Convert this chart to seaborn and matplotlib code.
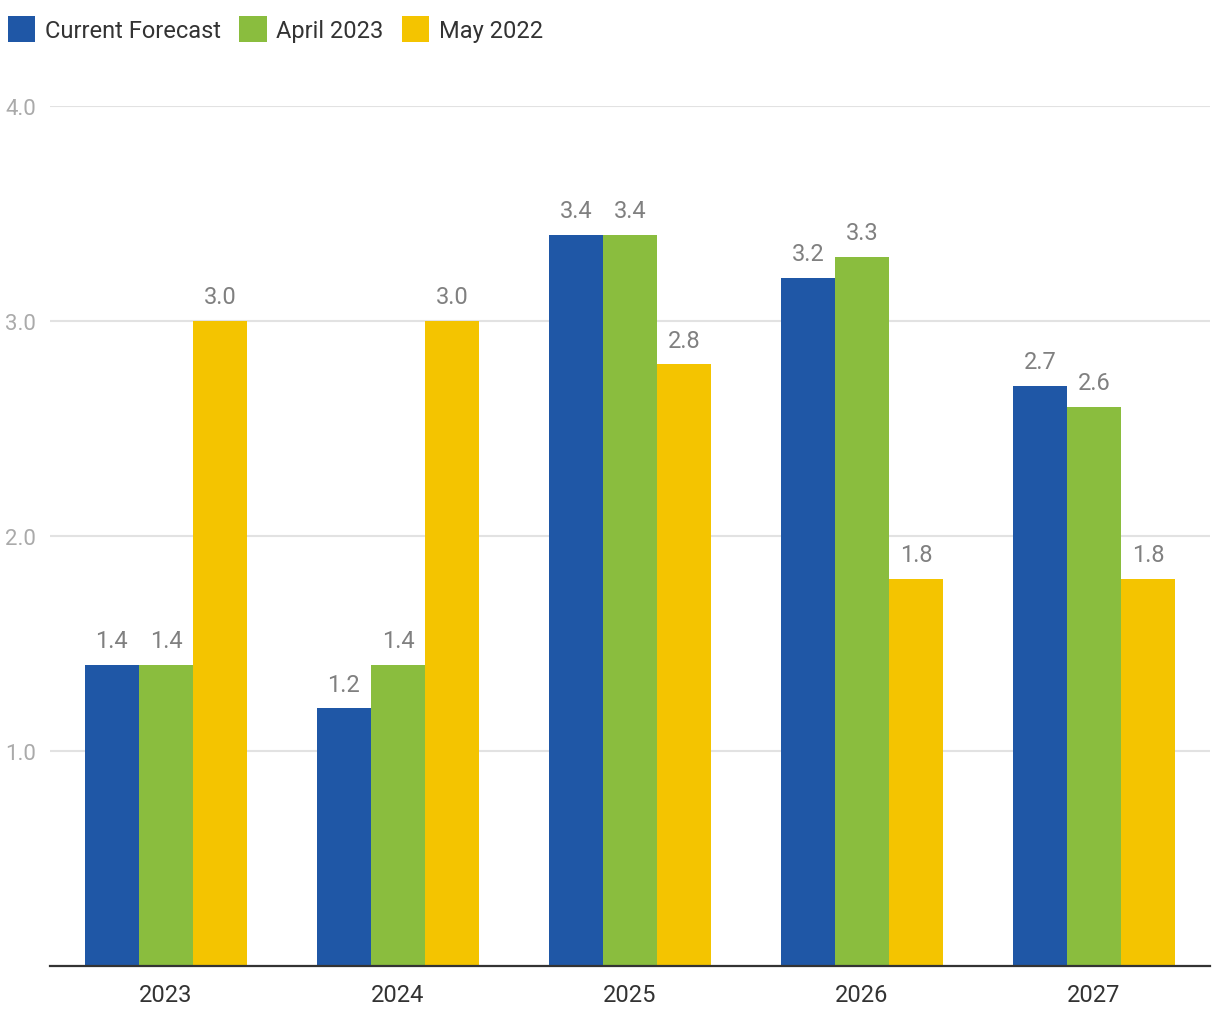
import matplotlib
matplotlib.use("Agg")
import matplotlib.pyplot as plt
import seaborn as sns
import pandas as pd
from matplotlib.patches import Patch

years = ["2023", "2024", "2025", "2026", "2027"]
series_names = ["Current Forecast", "April 2023", "May 2022"]
current_forecast = [1.4, 1.2, 3.4, 3.2, 2.7]
april_2023 = [1.4, 1.4, 3.4, 3.3, 2.6]
may_2022 = [3.0, 3.0, 2.8, 1.8, 1.8]
colors = ["#1f57a6", "#8abd3e", "#f4c400"]
y_ticks = [1.0, 2.0, 3.0, 4.0]

rows = []
for name, vals in zip(series_names, [current_forecast, april_2023, may_2022]):
    for y, v in zip(years, vals):
        rows.append({"year": y, "series": name, "value": v})
df = pd.DataFrame(rows)

sns.set_theme(style="white")
plt.rcParams["font.family"] = ["Roboto", "DejaVu Sans"]

W, H = 1220, 1020
fig = plt.figure(figsize=(W / 100, H / 100), dpi=100)
ax = fig.add_axes([50 / W, (H - 967) / H, 1160 / W, (967 - 107) / H])

sns.barplot(data=df, x="year", y="value", hue="series", order=years,
            hue_order=series_names, palette=colors, width=0.7, gap=0,
            saturation=1, ax=ax, legend=False, errorbar=None, linewidth=0)

for c in ax.containers:
    ax.bar_label(c, fmt="%.1f", padding=9, fontsize=17, color="#808080")

ax.set_xlim(-0.5, 4.5)
ax.set_ylim(0, 4.0)
ax.set_yticks(y_ticks)
ax.set_yticklabels([f"{t:.1f}" for t in y_ticks])
ax.yaxis.grid(True, color="#e2e2e2", linewidth=1.5)
ax.set_axisbelow(True)
ax.tick_params(axis="y", length=0, pad=10, labelsize=16, labelcolor="#aaaaaa")
ax.tick_params(axis="x", length=0, pad=12, labelsize=17, labelcolor="#333333")
ax.set_xlabel("")
ax.set_ylabel("")
for s in ["top", "right", "left"]:
    ax.spines[s].set_visible(False)
ax.spines["bottom"].set_color("#333333")
ax.spines["bottom"].set_linewidth(1.6)

handles = [Patch(facecolor=c, edgecolor="none") for c in colors]
fig.legend(handles, series_names, loc="upper left", bbox_to_anchor=(8 / W, 1 - 17 / H),
           ncol=3, frameon=False, fontsize=17, labelcolor="#333333",
           handlelength=1.15, handleheight=1.3, handletextpad=0.4, columnspacing=0.8,
           borderaxespad=0, borderpad=0)

fig.savefig("out.png", dpi=100)
